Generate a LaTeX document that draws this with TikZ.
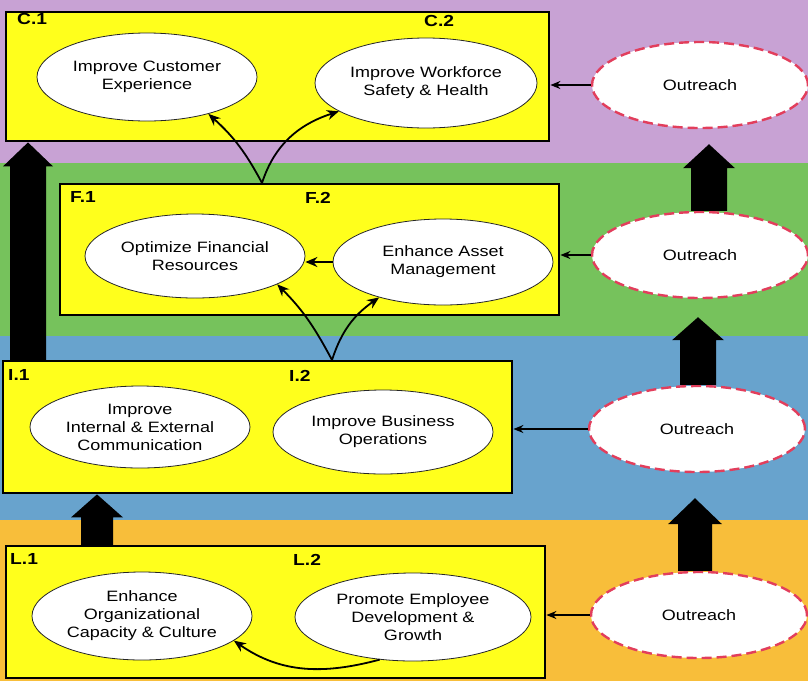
\documentclass[tikz,border=0pt]{standalone}
\usepackage{fontspec}
\setmainfont[FakeStretch=1.2]{Liberation Sans}
\usetikzlibrary{arrows.meta,shapes.geometric,calc}
\definecolor{bpurple}{RGB}{200,162,212}
\definecolor{bgreen}{RGB}{118,194,92}
\definecolor{bblue}{RGB}{104,163,205}
\definecolor{borange}{RGB}{248,190,58}
\definecolor{byellow}{RGB}{255,255,28}
\definecolor{ored}{RGB}{226,62,92}
\newcommand\blockup[5]{\fill[black] let \p1=#1, \p2=#2 in
  (\x1-#3,\y1) -- (\x1-#3,\y2-#5) -- (\x1-#4,\y2-#5) -- (\x1,\y2) --
  (\x1+#4,\y2-#5) -- (\x1+#3,\y2-#5) -- (\x1+#3,\y1) -- cycle;}
\begin{document}
\begin{tikzpicture}[x=1pt,y=-1pt,
  layerbox/.style={draw=black, line width=2.4pt, fill=byellow, anchor=north west, inner sep=0pt},
  goal/.style={ellipse, draw=black!85, line width=0.8pt, fill=white, align=center, inner sep=0pt,
     minimum width=220pt, minimum height=88pt, font=\fontsize{15}{18}\selectfont},
  outreach/.style={ellipse, draw=ored, dash pattern=on 10pt off 5pt, line width=2.4pt, fill=white,
     minimum width=216pt, minimum height=86pt, inner sep=0pt, font=\fontsize{15}{18}\selectfont},
  tag/.style={font=\fontsize{16}{18}\bfseries\selectfont, anchor=north west, inner sep=0pt},
  link/.style={-{Stealth[length=12pt,width=10pt]}, line width=1.8pt},
  feed/.style={-{Stealth[length=10pt,width=8pt]}, line width=1.3pt}
]
\useasboundingbox (0,0) rectangle (808,681);
% bands
\fill[bpurple] (0,0) rectangle (808,163);
\fill[bgreen] (0,163) rectangle (808,336);
\fill[bblue] (0,336) rectangle (808,520);
\fill[borange] (0,520) rectangle (808,681);
% layer boxes
\node[layerbox, minimum width=543pt, minimum height=129pt] (Cbox) at (5,11) {};
\node[layerbox, minimum width=499pt, minimum height=131pt] (Fbox) at (59,183) {};
\node[layerbox, minimum width=509pt, minimum height=132pt] (Ibox) at (2,360) {};
\node[layerbox, minimum width=539pt, minimum height=132pt] (Lbox) at (5,545) {};
% tags
\node[tag] (tC1) at (17,13) {C.1};
\node[tag] (tC2) at (424,15) {C.2};
\node[tag] (tF1) at (70,191) {F.1};
\node[tag] (tF2) at (305,192) {F.2};
\node[tag] (tI1) at (8,369) {I.1};
\node[tag] (tI2) at (289,370) {I.2};
\node[tag] (tL1) at (10,553) {L.1};
\node[tag] (tL2) at (293,554) {L.2};
% goals
\node[goal] (C1) at (147,77) {Improve Customer\\Experience};
\node[goal, minimum width=222pt, minimum height=90pt] (C2) at (426,83) {Improve Workforce\\Safety \& Health};
\node[goal, minimum height=84pt] (F1) at (195,256) {Optimize Financial\\Resources};
\node[goal, minimum height=86pt] (F2) at (443,262) {Enhance Asset\\Management};
\node[goal, minimum height=82pt] (I1) at (140,427) {Improve\\Internal \& External\\Communication};
\node[goal, minimum height=84pt] (I2) at (383,432) {Improve Business\\Operations};
\node[goal, minimum height=88pt] (L1) at (142,616) {Enhance\\Organizational\\Capacity \& Culture};
\node[goal, minimum width=236pt, minimum height=88pt] (L2) at (413,617) {Promote Employee\\Development \&\\Growth};
% outreach
\node[outreach] (O1) at (700,85) {Outreach};
\node[outreach] (O2) at (700,255) {Outreach};
\node[outreach] (O3) at (697,429) {Outreach};
\node[outreach] (O4) at (699,615) {Outreach};
% outreach feeds
\draw[feed] (O1.west) -- (O1.west -| Cbox.east);
\draw[feed] (O2.west) -- (O2.west -| Fbox.east);
\draw[feed] (O3.west) -- (O3.west -| Ibox.east);
\draw[feed] (O4.west) -- (O4.west -| Lbox.east);
% block arrows
\coordinate (bigB) at ($(Ibox.north west)+(26,0)$);
\coordinate (bigT) at ($(Cbox.south west)+(23,0)$);
\blockup{(bigB)}{(bigT)}{18pt}{25pt}{24pt}
\coordinate (liB) at ($(Lbox.north west)+(92,0)$);
\coordinate (liT) at ($(Ibox.south west)+(95,0)$);
\blockup{(liB)}{(liT)}{16pt}{26pt}{23pt}
\coordinate (o43B) at ($(O4.north)+(-4,0)$);
\coordinate (o43T) at ($(O3.south)+(-2,25)$);
\blockup{(o43B)}{(o43T)}{17pt}{27pt}{26pt}
\coordinate (o32B) at ($(O3.north)+(1,0)$);
\coordinate (o32T) at ($(O2.south)+(-2,18)$);
\blockup{(o32B)}{(o32T)}{18pt}{26pt}{23pt}
\coordinate (o21B) at ($(O2.north)+(9,0)$);
\coordinate (o21T) at ($(O1.south)+(9,15)$);
\blockup{(o21B)}{(o21T)}{18pt}{26pt}{24pt}
% curved links
\coordinate (fsplit) at ($(Fbox.north west)+(203,0)$);
\coordinate (isplit) at ($(Ibox.north west)+(330,0)$);
\draw[link] (fsplit) to[out=118,in=-42] (C1.-31);
\draw[link] (fsplit) to[out=72,in=198] (C2.-162);
\draw[link] (isplit) to[out=118,in=-45] (F1.-19);
\draw[link] (isplit) to[out=72,in=215] (F2.-151);
\draw[link] (F2.west) -- (F2.west -| F1.east);
\draw[link] (L2.-128) to[out=195,in=-35] (L1.-15);
\end{tikzpicture}
\end{document}
